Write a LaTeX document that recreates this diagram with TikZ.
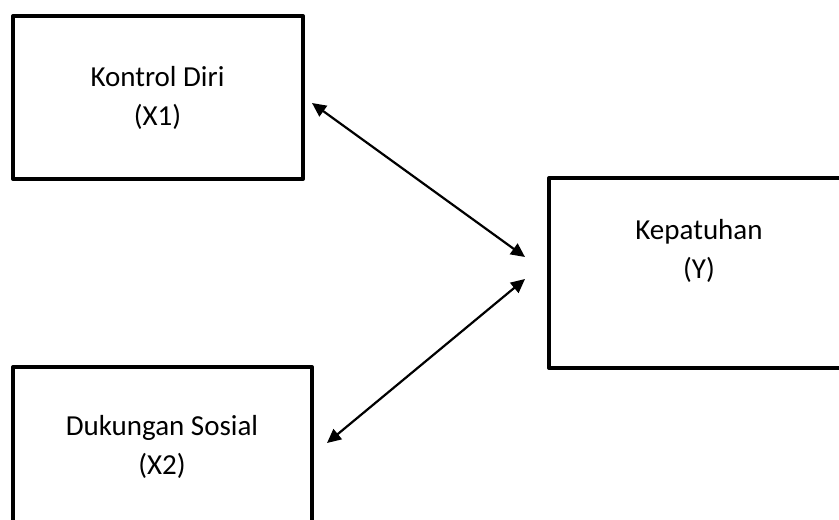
\documentclass[tikz,border=0pt]{standalone}
\usepackage{fontspec}
\setmainfont{Carlito}
\usetikzlibrary{arrows.meta}
\begin{document}
\begin{tikzpicture}[x=1pt,y=-1pt,
  box/.style={draw,line width=4pt,line join=round,inner sep=0pt},
  lbl/.style={anchor=base,inner sep=0pt,font=\fontsize{29}{35}\selectfont},
  link/.style={line width=2.2pt,{Triangle[length=14pt,width=13pt]}-{Triangle[length=14pt,width=13pt]}}]
\useasboundingbox (0,0) rectangle (839,520);
\clip (0,0) rectangle (839,520);
\node[box,minimum width=290pt,minimum height=163pt] (x1) at (158,97.5) {};
\node[box,minimum width=300pt,minimum height=190pt] (y) at (699,273) {};
\node[box,minimum width=299pt,minimum height=180pt] (x2) at (162.5,457) {};
\node[lbl] (x1a) at (157.5,86) {Kontrol Diri};
\node[lbl] (x1b) at (157.5,125) {(X1)};
\node[lbl] (ya) at (699,239) {Kepatuhan};
\node[lbl] (yb) at (699,278) {(Y)};
\node[lbl] (x2a) at (162,435) {Dukungan Sosial};
\node[lbl] (x2b) at (162,474) {(X2)};
\coordinate (a1s) at (312,103);
\coordinate (a1e) at (525,257);
\coordinate (a2s) at (525,279);
\coordinate (a2e) at (327,443);
\draw[link] (a1s) -- (a1e);
\draw[link] (a2s) -- (a2e);
\end{tikzpicture}
\end{document}
